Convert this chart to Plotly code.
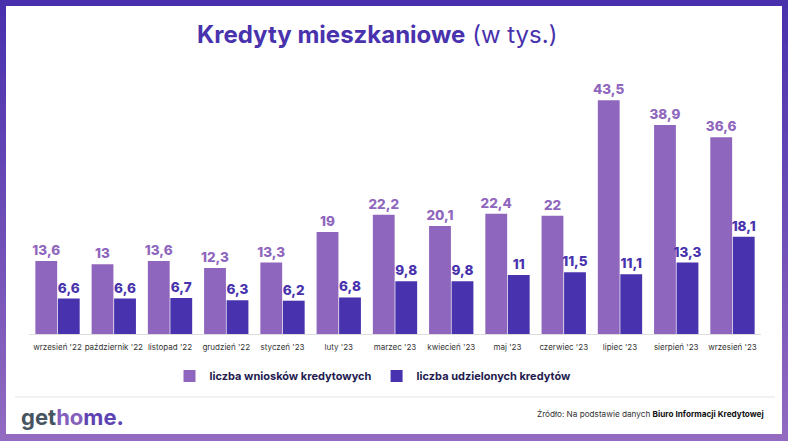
import plotly.graph_objects as go

categories = ["wrzesień '22", "październik '22", "listopad '22", "grudzień '22", "styczeń '23", "luty '23", "marzec '23",
              "kwiecień '23", "maj '23", "czerwiec '23", "lipiec '23", "sierpień '23", "wrzesień '23"]
applications = [13.6, 13, 13.6, 12.3, 13.3, 19, 22.2, 20.1, 22.4, 22, 43.5, 38.9, 36.6]
granted = [6.6, 6.6, 6.7, 6.3, 6.2, 6.8, 9.8, 9.8, 11, 11.5, 11.1, 13.3, 18.1]
series_names = ["liczba wniosków kredytowych", "liczba udzielonych kredytów"]

W, H = 788, 441
PURPLE = "#8f66bd"
BLUE = "#4832ad"
FONT = "Inter"


def fmt(values):
    return [str(v).replace(".", ",") for v in values]


def px(x):
    return x / W


def py(y):
    return 1 - y / H


fig = go.Figure()
fig.add_bar(x=categories, y=applications, name=series_names[0], marker_color=PURPLE, marker_line_width=0,
            text=fmt(applications), textposition="outside", cliponaxis=False, constraintext="none",
            textfont=dict(color=PURPLE, size=13.5, family=FONT, weight=800))
fig.add_bar(x=categories, y=granted, name=series_names[1], marker_color=BLUE, marker_line_width=0,
            text=fmt(granted), textposition="outside", cliponaxis=False, constraintext="none",
            textfont=dict(color=BLUE, size=13.5, family=FONT, weight=800))

# gradient frame: each band runs to the bottom and the next paints over it, so no seams show
shapes = []
steps = 60
c0, c1 = (72, 48, 173), (146, 106, 192)
for i in range(steps):
    t = i / (steps - 1)
    col = "rgb(%d,%d,%d)" % tuple(round(a + (b - a) * t) for a, b in zip(c0, c1))
    shapes.append(dict(type="rect", xref="paper", yref="paper", x0=0, x1=1, y0=1 - i / steps, y1=0,
                       fillcolor=col, line_width=0, layer="below"))
shapes.append(dict(type="rect", xref="paper", yref="paper", x0=px(6), x1=px(782), y0=py(6), y1=py(434),
                   fillcolor="white", line_width=0, layer="below"))
shapes.append(dict(type="line", xref="paper", yref="paper", x0=px(15), x1=px(775), y0=py(397), y1=py(397),
                   line=dict(color="#e4e4e4", width=1), layer="below"))

annotations = [
    dict(text="<b>Kredyty mieszkaniowe</b> (w tys.)", x=px(377), y=py(35), xref="paper", yref="paper", showarrow=False,
         xanchor="center", yanchor="middle", font=dict(size=24, color=BLUE, family=FONT)),
    dict(text="<b><span style='color:#45545f'>get</span><span style='color:#8560bd'>ho</span>"
              "<span style='color:#5e43b3'>me.</span></b>",
         x=px(19), y=py(417), xref="paper", yref="paper", showarrow=False, xanchor="left", yanchor="middle",
         font=dict(size=22, family=FONT)),
    dict(text="Źródło: Na podstawie danych <b style='color:#111'>Biuro Informacji Kredytowej</b>",
         x=px(766), y=py(414), xref="paper", yref="paper", showarrow=False, xanchor="right", yanchor="middle",
         font=dict(size=8.2, color="#333", family=FONT)),
]

fig.update_layout(
    width=W, height=H, autosize=False, margin=dict(l=0, r=0, t=0, b=0),
    paper_bgcolor="white", plot_bgcolor="rgba(0,0,0,0)",
    barmode="group", bargap=0.2, bargroupgap=0.03,
    shapes=shapes, annotations=annotations,
    font=dict(family=FONT),
    showlegend=True,
    legend=dict(orientation="h", x=px(373), xanchor="center", y=py(376), yanchor="middle",
                font=dict(size=11, color="#241b50", family=FONT, weight=700),
                bgcolor="rgba(0,0,0,0)", traceorder="normal", itemwidth=30),
    xaxis=dict(domain=[px(29.4), px(760.6)], showline=True, linecolor="#dddddd", linewidth=1, ticks="", showgrid=False,
               tickfont=dict(size=8, color="#333", family=FONT), tickangle=0, automargin=False, ticklabelstandoff=5),
    yaxis=dict(domain=[py(334), py(60)], range=[0, 51], visible=False, showgrid=False, zeroline=False),
)

fig.write_html("out.html", post_script="document.body.style.margin='0';", config=dict(displayModeBar=False))
